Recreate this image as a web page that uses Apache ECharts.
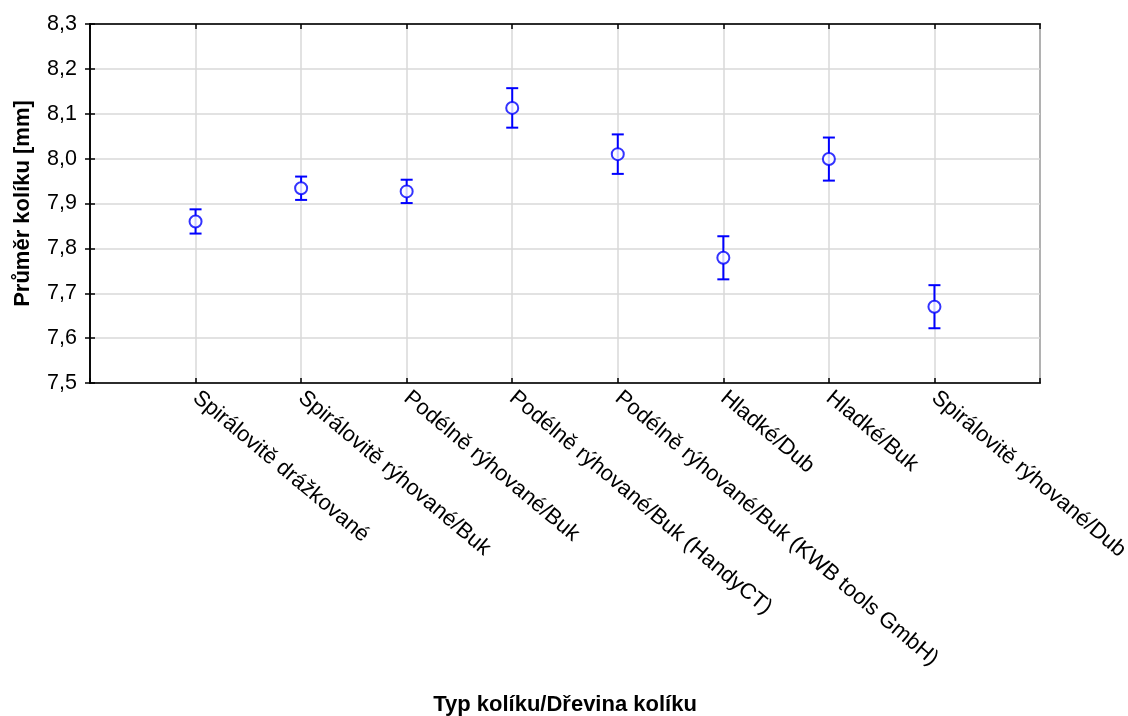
<!DOCTYPE html>
<html>
<head>
<meta charset="utf-8">
<script src="https://cdn.jsdelivr.net/npm/echarts@6/dist/echarts.min.js"></script>
<style>html,body{margin:0;padding:0;background:#fff}#c{width:1128px;height:716px}</style>
</head>
<body>
<div id="c"></div>
<script>
var categories = [
  'Spirálovitě drážkované',
  'Spirálovitě rýhované/Buk',
  'Podélně rýhované/Buk',
  'Podélně rýhované/Buk (HandyCT)',
  'Podélně rýhované/Buk (KWB tools GmbH)',
  'Hladké/Dub',
  'Hladké/Buk',
  'Spirálovitě rýhované/Dub'
];
var means = [7.860, 7.934, 7.927, 8.113, 8.010, 7.779, 7.999, 7.670];
var errors = [0.027, 0.026, 0.026, 0.044, 0.044, 0.048, 0.048, 0.048];
var yTicks = [7.5, 7.6, 7.7, 7.8, 7.9, 8.0, 8.1, 8.2, 8.3];

var blue = '#0000ff';
var font = 'Liberation Sans, Arial, sans-serif';

var points = means.map(function (m, i) { return [i + 1, m]; });
var bars = means.map(function (m, i) { return [i + 1, m - errors[i], m + errors[i]]; });

var chart = echarts.init(document.getElementById('c'));
chart.setOption({
  animation: false,
  backgroundColor: '#fff',
  grid: { left: 90, right: 88, top: 24, bottom: 333, containLabel: false, outerBoundsMode: 'none', show: true, borderColor: '#000', borderWidth: 1.5, backgroundColor: 'transparent' },
  xAxis: [{
    type: 'value', min: 0, max: 9, interval: 1, position: 'bottom',
    name: 'Typ kolíku/Dřevina kolíku', nameLocation: 'middle', nameGap: 311,
    nameTextStyle: { fontFamily: font, fontSize: 22, fontWeight: 'bold', color: '#000' },
    axisLine: { show: true, lineStyle: { color: '#000', width: 1.5 } },
    axisTick: { show: true, inside: true, length: 5, lineStyle: { color: '#000', width: 1.5 } },
    splitLine: { show: true, lineStyle: { color: '#d9d9d9', width: 1.5 } },
    axisLabel: {
      rotate: -40, margin: 12, fontFamily: font, fontSize: 22, color: '#000',
      formatter: function (v) { return (v >= 1 && v <= categories.length) ? categories[v - 1] : ''; }
    }
  }, {
    type: 'value', min: 0, max: 9, interval: 1, position: 'top',
    axisLine: { show: true, lineStyle: { color: '#000', width: 1.5 } },
    axisTick: { show: true, inside: true, length: 5, lineStyle: { color: '#000', width: 1.5 } },
    splitLine: { show: false }, axisLabel: { show: false }
  }],
  yAxis: [{
    type: 'value', min: yTicks[0], max: yTicks[yTicks.length - 1], interval: 0.1, position: 'left',
    name: 'Průměr kolíku [mm]', nameLocation: 'middle', nameGap: 56, nameRotate: 90,
    nameTextStyle: { fontFamily: font, fontSize: 22, fontWeight: 'bold', color: '#000' },
    axisLine: { show: true, lineStyle: { color: '#000', width: 1.5 } },
    axisTick: { show: true, inside: true, length: 5, lineStyle: { color: '#000', width: 1.5 } },
    splitLine: { show: true, lineStyle: { color: '#d9d9d9', width: 1.5 } },
    axisLabel: {
      margin: 13, fontFamily: font, fontSize: 21.5, color: '#000',
      formatter: function (v) { return v.toFixed(1).replace('.', ','); }
    }
  }, {
    type: 'value', min: yTicks[0], max: yTicks[yTicks.length - 1], interval: 0.1, position: 'right',
    axisLine: { show: true, lineStyle: { color: '#000', width: 1.5 } },
    axisTick: { show: true, inside: true, length: 5, lineStyle: { color: '#000', width: 1.5 } },
    splitLine: { show: false }, axisLabel: { show: false }
  }],
  series: [{
    type: 'custom',
    xAxisIndex: 0, yAxisIndex: 0,
    data: bars,
    z: 3,
    renderItem: function (params, api) {
      var x = api.value(0);
      var lo = api.coord([x, api.value(1)]);
      var hi = api.coord([x, api.value(2)]);
      var hw = 6;
      var style = { stroke: blue, lineWidth: 2, fill: null };
      return {
        type: 'group',
        children: [
          { type: 'line', shape: { x1: lo[0], y1: lo[1], x2: hi[0], y2: hi[1] }, style: style },
          { type: 'line', shape: { x1: lo[0] - hw, y1: lo[1], x2: lo[0] + hw, y2: lo[1] }, style: style },
          { type: 'line', shape: { x1: hi[0] - hw, y1: hi[1], x2: hi[0] + hw, y2: hi[1] }, style: style }
        ]
      };
    }
  }, {
    type: 'scatter',
    xAxisIndex: 0, yAxisIndex: 0,
    data: points,
    symbol: 'circle',
    symbolSize: 12,
    z: 4,
    itemStyle: { color: '#fff', borderColor: blue, borderWidth: 2 }
  }]
});
</script>
</body>
</html>
